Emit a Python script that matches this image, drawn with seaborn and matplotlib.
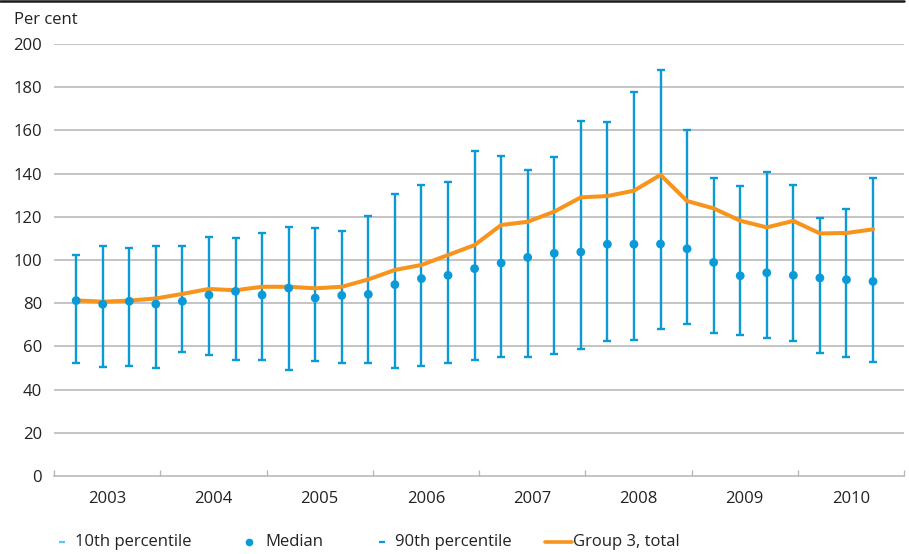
import numpy as np
import pandas as pd
import matplotlib
matplotlib.use("Agg")
import matplotlib.pyplot as plt
from matplotlib.lines import Line2D
import seaborn as sns

# ---- data (quarterly, 2003Q1 .. 2010Q3) ----
years = [2003]*4 + [2004]*4 + [2005]*4 + [2006]*4 + [2007]*4 + [2008]*4 + [2009]*4 + [2010]*3
quarters = [1, 2, 3, 4]*7 + [1, 2, 3]
p10 = [52.2, 50.3, 50.8, 50.1, 57.4, 56.2, 53.9, 53.7, 49.2, 53.2, 52.5,
       52.2, 50.1, 50.9, 52.2, 53.5, 54.9, 55.2, 56.3, 58.6, 62.5, 63.0,
       67.9, 70.4, 66.4, 65.4, 63.7, 62.7, 57.1, 55.2, 52.6]
median = [81.2, 79.5, 80.9, 79.6, 80.9, 83.8, 85.5, 83.8, 87.0, 82.4, 83.6,
          84.1, 88.6, 91.4, 92.9, 96.0, 98.6, 101.2, 103.1, 103.7, 107.3, 107.3,
          107.4, 105.2, 98.9, 92.7, 94.1, 92.9, 91.7, 90.9, 90.1]
p90 = [102.5, 106.6, 105.4, 106.6, 106.5, 110.5, 110.3, 112.7, 115.4, 114.8, 113.4,
       120.4, 130.6, 134.6, 136.0, 150.3, 148.1, 141.5, 147.8, 164.5, 164.0, 177.6,
       188.0, 160.2, 138.0, 134.4, 140.6, 134.7, 119.6, 123.5, 137.8]
group3_total = [81.3, 80.7, 81.2, 82.2, 84.3, 86.6, 86.0, 87.6, 87.6, 86.9, 87.6,
                91.0, 95.4, 97.7, 102.3, 106.9, 116.2, 117.7, 122.4, 129.0, 129.6, 132.1,
                139.4, 127.3, 123.9, 118.2, 115.1, 118.1, 112.3, 112.5, 114.2]
year_labels = ["2003", "2004", "2005", "2006", "2007", "2008", "2009", "2010"]
legend_labels = ["10th percentile", "Median", "90th percentile", "Group 3, total"]

BLUE = "#0a9ad8"
LIGHT_BLUE = "#5fc3ee"
ORANGE = "#f7941d"
GRID = "#b4b4b4"
TEXT = "#222222"
FS = 12

# position each quarter at its last month (mid-month) on a continuous year axis
df = pd.DataFrame({"year": years, "quarter": quarters, "p10": p10, "median": median,
                   "p90": p90, "total": group3_total})
df["x"] = df["year"] + (3 * df["quarter"] - 0.5) / 12.0

sns.set_theme(style="white")
plt.rcParams["font.family"] = ["Open Sans", "DejaVu Sans"]
plt.rcParams["font.size"] = FS

W, H = 909, 554
fig = plt.figure(figsize=(W / 100, H / 100), dpi=100)
ax = fig.add_axes([54 / W, 1 - 476 / H, (904 - 54) / W, (476 - 44) / H])

# gridlines
for v in range(20, 201, 20):
    ax.axhline(v, color=GRID, lw=1.1, zorder=0)

# error bars 10th-90th percentile
ax.errorbar(df["x"], df["median"],
            yerr=[df["median"] - df["p10"], df["p90"] - df["median"]],
            fmt="none", ecolor=BLUE, elinewidth=1.7, capsize=2.9, capthick=1.7, zorder=2)

sns.lineplot(data=df, x="x", y="total", ax=ax, color=ORANGE, lw=2.9, zorder=3,
             legend=False, sort=False)
sns.scatterplot(data=df, x="x", y="median", ax=ax, color=BLUE, s=40, edgecolor="none",
                zorder=4, legend=False)

ax.set_xlim(2003, 2011)
ax.set_ylim(0, 200)
ax.set_xlabel("")
ax.set_ylabel("")

ax.set_yticks(range(0, 201, 20))
ax.tick_params(axis="y", length=0, pad=8.5, labelsize=FS, labelcolor=TEXT)

ax.set_xticks([int(y) + 0.5 for y in year_labels])
ax.set_xticklabels(year_labels)
ax.set_xticks(list(range(2003, 2012)), minor=True)
ax.tick_params(axis="x", which="major", length=0, pad=11, labelsize=FS, labelcolor=TEXT)
ax.tick_params(axis="x", which="minor", direction="in", length=4, width=0.9, color=GRID,
               bottom=True)

for s in ["top", "right", "left"]:
    ax.spines[s].set_visible(False)
ax.spines["bottom"].set_color(GRID)
ax.spines["bottom"].set_linewidth(1.1)
ax.set_facecolor("white")

# header text and top rule
fig.text(14 / W, 1 - 24 / H, "Per cent", fontsize=FS, color=TEXT, va="baseline", ha="left")
fig.add_artist(Line2D([0, 904 / W], [1 - 1 / H, 1 - 1 / H], transform=fig.transFigure,
                      color="#1a1a1a", lw=1.8))

# legend (manual placement beneath the chart)
ly = 1 - 542 / H
def fx(px):
    return px / W
fig.add_artist(Line2D([fx(62)], [ly], transform=fig.transFigure, marker="_", ms=5,
                      mew=1.6, color=LIGHT_BLUE, ls="none"))
fig.text(fx(75), ly, legend_labels[0], fontsize=FS, color=TEXT, va="center", ha="left")
fig.add_artist(Line2D([fx(249)], [ly], transform=fig.transFigure, marker="o", ms=5.5,
                      color=BLUE, ls="none", mec="none"))
fig.text(fx(265), ly, legend_labels[1], fontsize=FS, color=TEXT, va="center", ha="left")
fig.add_artist(Line2D([fx(382)], [ly], transform=fig.transFigure, marker="_", ms=5,
                      mew=1.6, color=BLUE, ls="none"))
fig.text(fx(395), ly, legend_labels[2], fontsize=FS, color=TEXT, va="center", ha="left")
fig.add_artist(Line2D([fx(545), fx(572)], [ly, ly], transform=fig.transFigure,
                      color=ORANGE, lw=2.6))
fig.text(fx(573), ly, legend_labels[3], fontsize=FS, color=TEXT, va="center", ha="left")

fig.savefig("out.png", dpi=100, facecolor="white")
